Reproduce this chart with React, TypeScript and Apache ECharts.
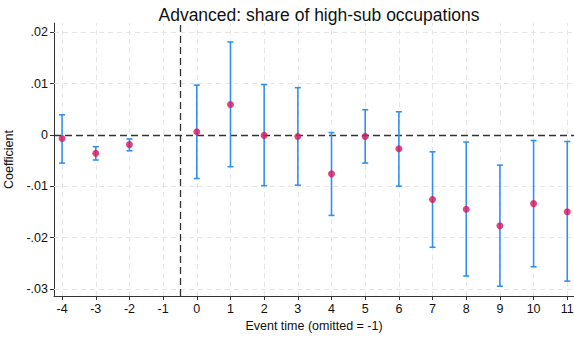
import React, { useEffect, useRef } from "react";
import * as echarts from "echarts";

const eventTimes = [-4, -3, -2, 0, 1, 2, 3, 4, 5, 6, 7, 8, 9, 10, 11];
const coef = [-0.0007, -0.0036, -0.0019, 0.0006, 0.0059, -0.0001, -0.0003, -0.0076, -0.0003, -0.0027, -0.0126, -0.0145, -0.0177, -0.0134, -0.015];
const ciLow = [-0.0055, -0.0049, -0.0031, -0.0085, -0.0062, -0.0099, -0.0098, -0.0157, -0.0055, -0.01, -0.0219, -0.0275, -0.0295, -0.0257, -0.0285];
const ciHigh = [0.0039, -0.0023, -0.0008, 0.0097, 0.0181, 0.0098, 0.0092, 0.00045, 0.0049, 0.0045, -0.0033, -0.0014, -0.0059, -0.0011, -0.0013];
const xTicks = [-4, -3, -2, -1, 0, 1, 2, 3, 4, 5, 6, 7, 8, 9, 10, 11];
const yTicks = [-0.03, -0.02, -0.01, 0, 0.01, 0.02];
const yTickLabels = ["-.03", "-.02", "-.01", "0", ".01", ".02"];

const FONT = "Liberation Sans, Arial, Helvetica, sans-serif";

export default function App() {
  const ref = useRef<HTMLDivElement>(null);
  useEffect(() => {
    if (!ref.current) return;
    const chart = echarts.init(ref.current, null, { renderer: "svg" });
    const grid = "#e6e6e6";
    const ebData = eventTimes.map((t, i) => [t, ciLow[i], ciHigh[i]]);
    chart.setOption({
      animation: false,
      backgroundColor: "#ffffff",
      title: {
        text: "Advanced: share of high-sub occupations",
        left: 314,
        textAlign: "center",
        top: 1,
        textStyle: { fontFamily: FONT, fontSize: 17.5, fontWeight: "normal", color: "#111" },
      },
      grid: { left: 54, right: 0, top: 23, bottom: 45, outerBoundsMode: "none", containLabel: false },
      xAxis: {
        type: "value",
        min: -4.24,
        max: 11.2,
        name: "Event time (omitted = -1)",
        nameLocation: "middle",
        nameGap: 22,
        nameTextStyle: { fontFamily: FONT, fontSize: 12.5, color: "#111" },
        axisLine: { show: true, onZero: false, lineStyle: { color: "#333", width: 1 } },
        axisTick: { show: true, length: 4, customValues: xTicks, lineStyle: { color: "#333" } },
        axisLabel: {
          customValues: xTicks,
          fontFamily: FONT,
          fontSize: 12.5,
          color: "#111",
          margin: 6,
          formatter: (v: number) => String(v),
        },
        splitLine: { show: false },
      },
      yAxis: {
        type: "value",
        min: -0.0314,
        max: 0.0218,
        name: "Coefficient",
        nameLocation: "middle",
        nameRotate: 90,
        nameGap: 38,
        nameTextStyle: { fontFamily: FONT, fontSize: 12.5, color: "#111" },
        axisLine: { show: true, onZero: false, lineStyle: { color: "#333", width: 1 } },
        axisTick: { show: true, length: 4, customValues: yTicks, lineStyle: { color: "#333" } },
        axisLabel: {
          customValues: yTicks,
          fontFamily: FONT,
          fontSize: 12.5,
          color: "#111",
          margin: 6,
          formatter: (v: number) => {
            const idx = yTicks.findIndex((t) => Math.abs(t - v) < 1e-9);
            return idx >= 0 ? yTickLabels[idx] : "";
          },
        },
        splitLine: { show: false },
      },
      series: [
        {
          type: "scatter",
          data: [],
          silent: true,
          z: 1,
          markLine: {
            z: 1,
            silent: true,
            symbol: "none",
            label: { show: false },
            emphasis: { disabled: true },
            lineStyle: { color: grid, type: [5, 4], width: 1 },
            data: [
              ...xTicks.map((t) => ({ xAxis: t })),
              ...yTicks.filter((t) => t !== 0).map((t) => ({ yAxis: t })),
            ],
          },
        },
        {
          type: "scatter",
          data: [],
          silent: true,
          z: 2,
          markLine: {
            z: 2,
            silent: true,
            symbol: "none",
            label: { show: false },
            emphasis: { disabled: true },
            lineStyle: { color: "#333", type: [7, 4], width: 1.3 },
            data: [{ xAxis: -0.5 }, { yAxis: 0 }],
          },
        },
        {
          type: "custom",
          z: 3,
          data: ebData,
          encode: { x: 0, y: [1, 2] },
          renderItem: (params: any, api: any) => {
            const x = api.value(0);
            const lo = api.coord([x, api.value(1)]);
            const hi = api.coord([x, api.value(2)]);
            const w = 3;
            const style = { stroke: "#3390f3", lineWidth: 1.6 };
            return {
              type: "group",
              children: [
                { type: "line", shape: { x1: lo[0], y1: lo[1], x2: hi[0], y2: hi[1] }, style },
                { type: "line", shape: { x1: lo[0] - w, y1: lo[1], x2: lo[0] + w, y2: lo[1] }, style },
                { type: "line", shape: { x1: hi[0] - w, y1: hi[1], x2: hi[0] + w, y2: hi[1] }, style },
              ],
            };
          },
        },
        {
          type: "scatter",
          z: 4,
          symbol: "circle",
          symbolSize: 7,
          itemStyle: { color: "#d8175c" },
          data: eventTimes.map((t, i) => [t, coef[i]]),
        },
      ],
    });
    return () => chart.dispose();
  }, []);
  return <div ref={ref} style={{ position: "fixed", left: 0, top: 0, width: 574, height: 341 }} />;
}
